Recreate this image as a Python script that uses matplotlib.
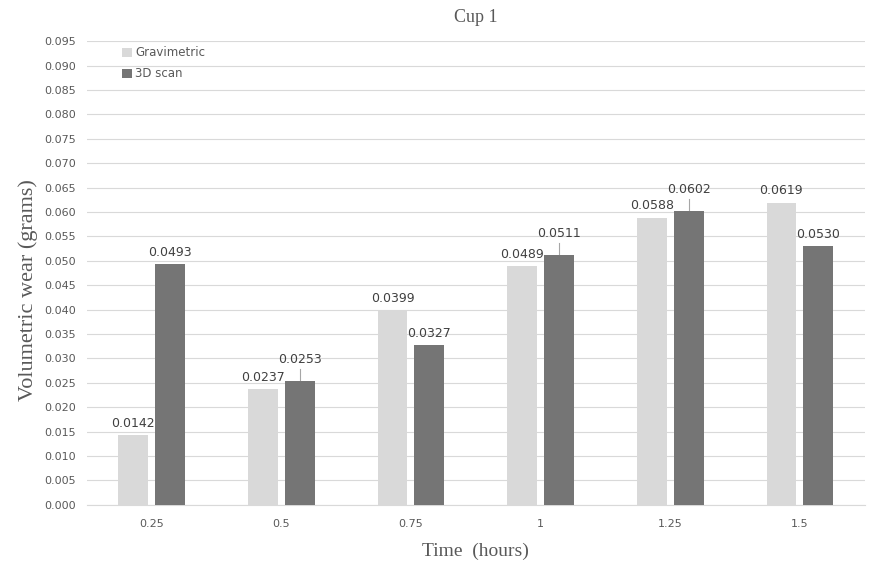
import numpy as np
import matplotlib.pyplot as plt

categories = ["0.25", "0.5", "0.75", "1", "1.25", "1.5"]
gravimetric = [0.0142, 0.0237, 0.0399, 0.0489, 0.0588, 0.0619]
scan_3d = [0.0493, 0.0253, 0.0327, 0.0511, 0.0602, 0.0530]
# labels that Excel pushed up with a leader line
leader_3d = [False, True, False, True, True, False]

fig = plt.figure(figsize=(8.69, 5.64), dpi=100)
ax = fig.add_axes([0.100, 0.105, 0.895, 0.822])

x = np.arange(len(categories))
w = 0.23
off = 0.142
c_grav = "#d9d9d9"
c_scan = "#757575"

ax.bar(x - off, gravimetric, w, color=c_grav, label="Gravimetric", zorder=3)
ax.bar(x + off, scan_3d, w, color=c_scan, label="3D scan", zorder=3)

lab_font = dict(family="DejaVu Sans", fontsize=9, color="#404040")
for i in range(len(categories)):
    ax.annotate(f"{gravimetric[i]:.4f}", (x[i] - off, gravimetric[i]),
                xytext=(0, 4), textcoords="offset points",
                ha="center", va="bottom", **lab_font)
    if leader_3d[i]:
        ax.annotate(f"{scan_3d[i]:.4f}", (x[i] + off, scan_3d[i]),
                    xytext=(0, 11), textcoords="offset points",
                    ha="center", va="bottom", **lab_font)
        ax.plot([x[i] + off, x[i] + off],
                [scan_3d[i] + 0.0003, scan_3d[i] + 0.0025],
                color="#a6a6a6", lw=0.8, zorder=4)
    else:
        ax.annotate(f"{scan_3d[i]:.4f}", (x[i] + off, scan_3d[i]),
                    xytext=(0, 4), textcoords="offset points",
                    ha="center", va="bottom", **lab_font)

ax.set_xlim(-0.5, len(categories) - 0.5)
ax.set_ylim(0, 0.095)
ax.set_yticks(np.arange(0, 0.0951, 0.005))
ax.set_yticklabels([f"{v:.3f}" for v in np.arange(0, 0.0951, 0.005)])
ax.set_xticks(x)
ax.set_xticklabels(categories)
ax.tick_params(axis="both", length=0, labelsize=8, labelcolor="#595959")
ax.tick_params(axis="x", pad=10)
ax.tick_params(axis="y", pad=8)

ax.grid(axis="y", color="#d9d9d9", lw=0.8, zorder=0)
for s in ["top", "right", "left"]:
    ax.spines[s].set_visible(False)
ax.spines["bottom"].set_color("#d9d9d9")

ax.set_title("Cup 1", family="Liberation Serif", fontsize=13, color="#595959", pad=14)
ax.set_xlabel("Time  (hours)", family="Liberation Serif", fontsize=14, color="#595959", labelpad=10)
# y label sits a bit below the axes centre in the original
fig.text(28 / 869, 1 - 290 / 564, "Volumetric wear (grams)", rotation=90,
         ha="center", va="center", family="Liberation Serif", fontsize=16, color="#595959")

leg = ax.legend(loc="upper left", bbox_to_anchor=(0.032, 1.012), frameon=False,
                fontsize=8.5, handlelength=0.8, handleheight=0.8, handletextpad=0.3,
                labelspacing=0.7)
for t in leg.get_texts():
    t.set_color("#595959")

fig.savefig("out.png", dpi=100)
